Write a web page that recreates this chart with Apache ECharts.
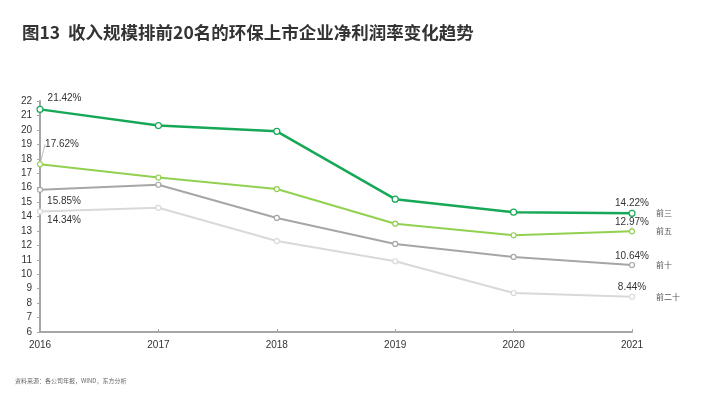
<!DOCTYPE html>
<html><head><meta charset="utf-8">
<script src="https://cdn.jsdelivr.net/npm/echarts@6/dist/echarts.min.js"></script>
<style>html,body{margin:0;padding:0;background:#fff}#c{width:714px;height:412px}</style>
</head><body><div id="c"></div>
<script>
const years = ['2016','2017','2018','2019','2020','2021'];
const top3 = [21.42, 20.3, 19.9, 15.2, 14.3, 14.22];
const top5 = [17.62, 16.7, 15.9, 13.5, 12.7, 12.97];
const top10 = [15.85, 16.2, 13.9, 12.1, 11.2, 10.64];
const top20 = [14.34, 14.6, 12.3, 10.9, 8.7, 8.44];
const names = ['前三', '前五', '前十', '前二十'];
const colors = ['#17a857', '#92d050', '#a6a6a6', '#d9d9d9'];
const yTicks = {min: 6, max: 22, interval: 1};
const titleText = '图13  收入规模排前20名的环保上市企业净利润率变化趋势';
const sourceText = '资料来源：各公司年报，WIND，东方分析';

const firstOffsets = [[0,-11],[0,0],[0,11],[0,9]];
function mkData(arr, idx){
  return arr.map((v,i)=>{
    if(i===0){
      return {value:v, label:{show:true, position:'right', distance:4, offset:firstOffsets[idx],
        formatter: p=>p.value.toFixed(2)+'%'}};
    }
    if(i===arr.length-1){
      return {value:v, label:{show:true, position:'top', distance:1,
        formatter: p=>p.value.toFixed(2)+'%'}};
    }
    return v;
  });
}
const seriesArr = [top3, top5, top10, top20].map((arr, idx)=>{
  const s = {
    name: names[idx], type:'line', data: mkData(arr, idx),
    symbol:'circle', symbolSize: idx===0?6:5, showAllSymbol:true,
    lineStyle:{color:colors[idx], width: idx===0?2.5:2},
    itemStyle:{color:'#fff', borderColor:colors[idx], borderWidth:1.2},
    label:{color:'#333', fontSize:10, fontFamily:'Liberation Sans'},
    endLabel:{show:true, formatter: names[idx], color:'#555', fontSize:8, distance:24,
      fontFamily:'Noto Sans CJK SC'},
    z: 10-idx
  };
  if(idx===1){
    s.labelLine = {show:true, lineStyle:{color:'#bfbfbf', width:1}};
    s.labelLayout = function(p){ return p.dataIndex===0 ? {dx:-2, dy:-20} : {}; };
  }
  return s;
});

const chart = echarts.init(document.getElementById('c'));
chart.setOption({
  animation:false,
  backgroundColor:'#fff',
  title:[{text:titleText, left:17, top:19, textStyle:{fontSize:17.5, fontWeight:'bold', color:'#333',
    fontFamily:'Noto Sans CJK SC'}},
    {text:sourceText, left:10, top:373, textStyle:{fontSize:6, fontWeight:'normal', color:'#666',
    fontFamily:'Noto Sans CJK SC'}}],
  grid:{left:40, right:82, top:101, bottom:80, containLabel:false},
  xAxis:{type:'category', data:years, boundaryGap:false,
    axisLine:{lineStyle:{color:'#a6a6a6', width:2}},
    axisTick:{show:true, inside:true, length:3, lineStyle:{color:'#a6a6a6'}},
    axisLabel:{color:'#333', fontSize:10, margin:8, fontFamily:'Liberation Sans'},
    splitLine:{show:false}},
  yAxis:{type:'value', min:yTicks.min, max:yTicks.max, interval:yTicks.interval,
    axisLine:{show:true, lineStyle:{color:'#a6a6a6', width:2}},
    axisTick:{show:true, length:3, lineStyle:{color:'#a6a6a6'}},
    axisLabel:{color:'#333', fontSize:10, margin:8, fontFamily:'Liberation Sans'},
    splitLine:{show:false}},
  series: seriesArr
});
</script></body></html>
